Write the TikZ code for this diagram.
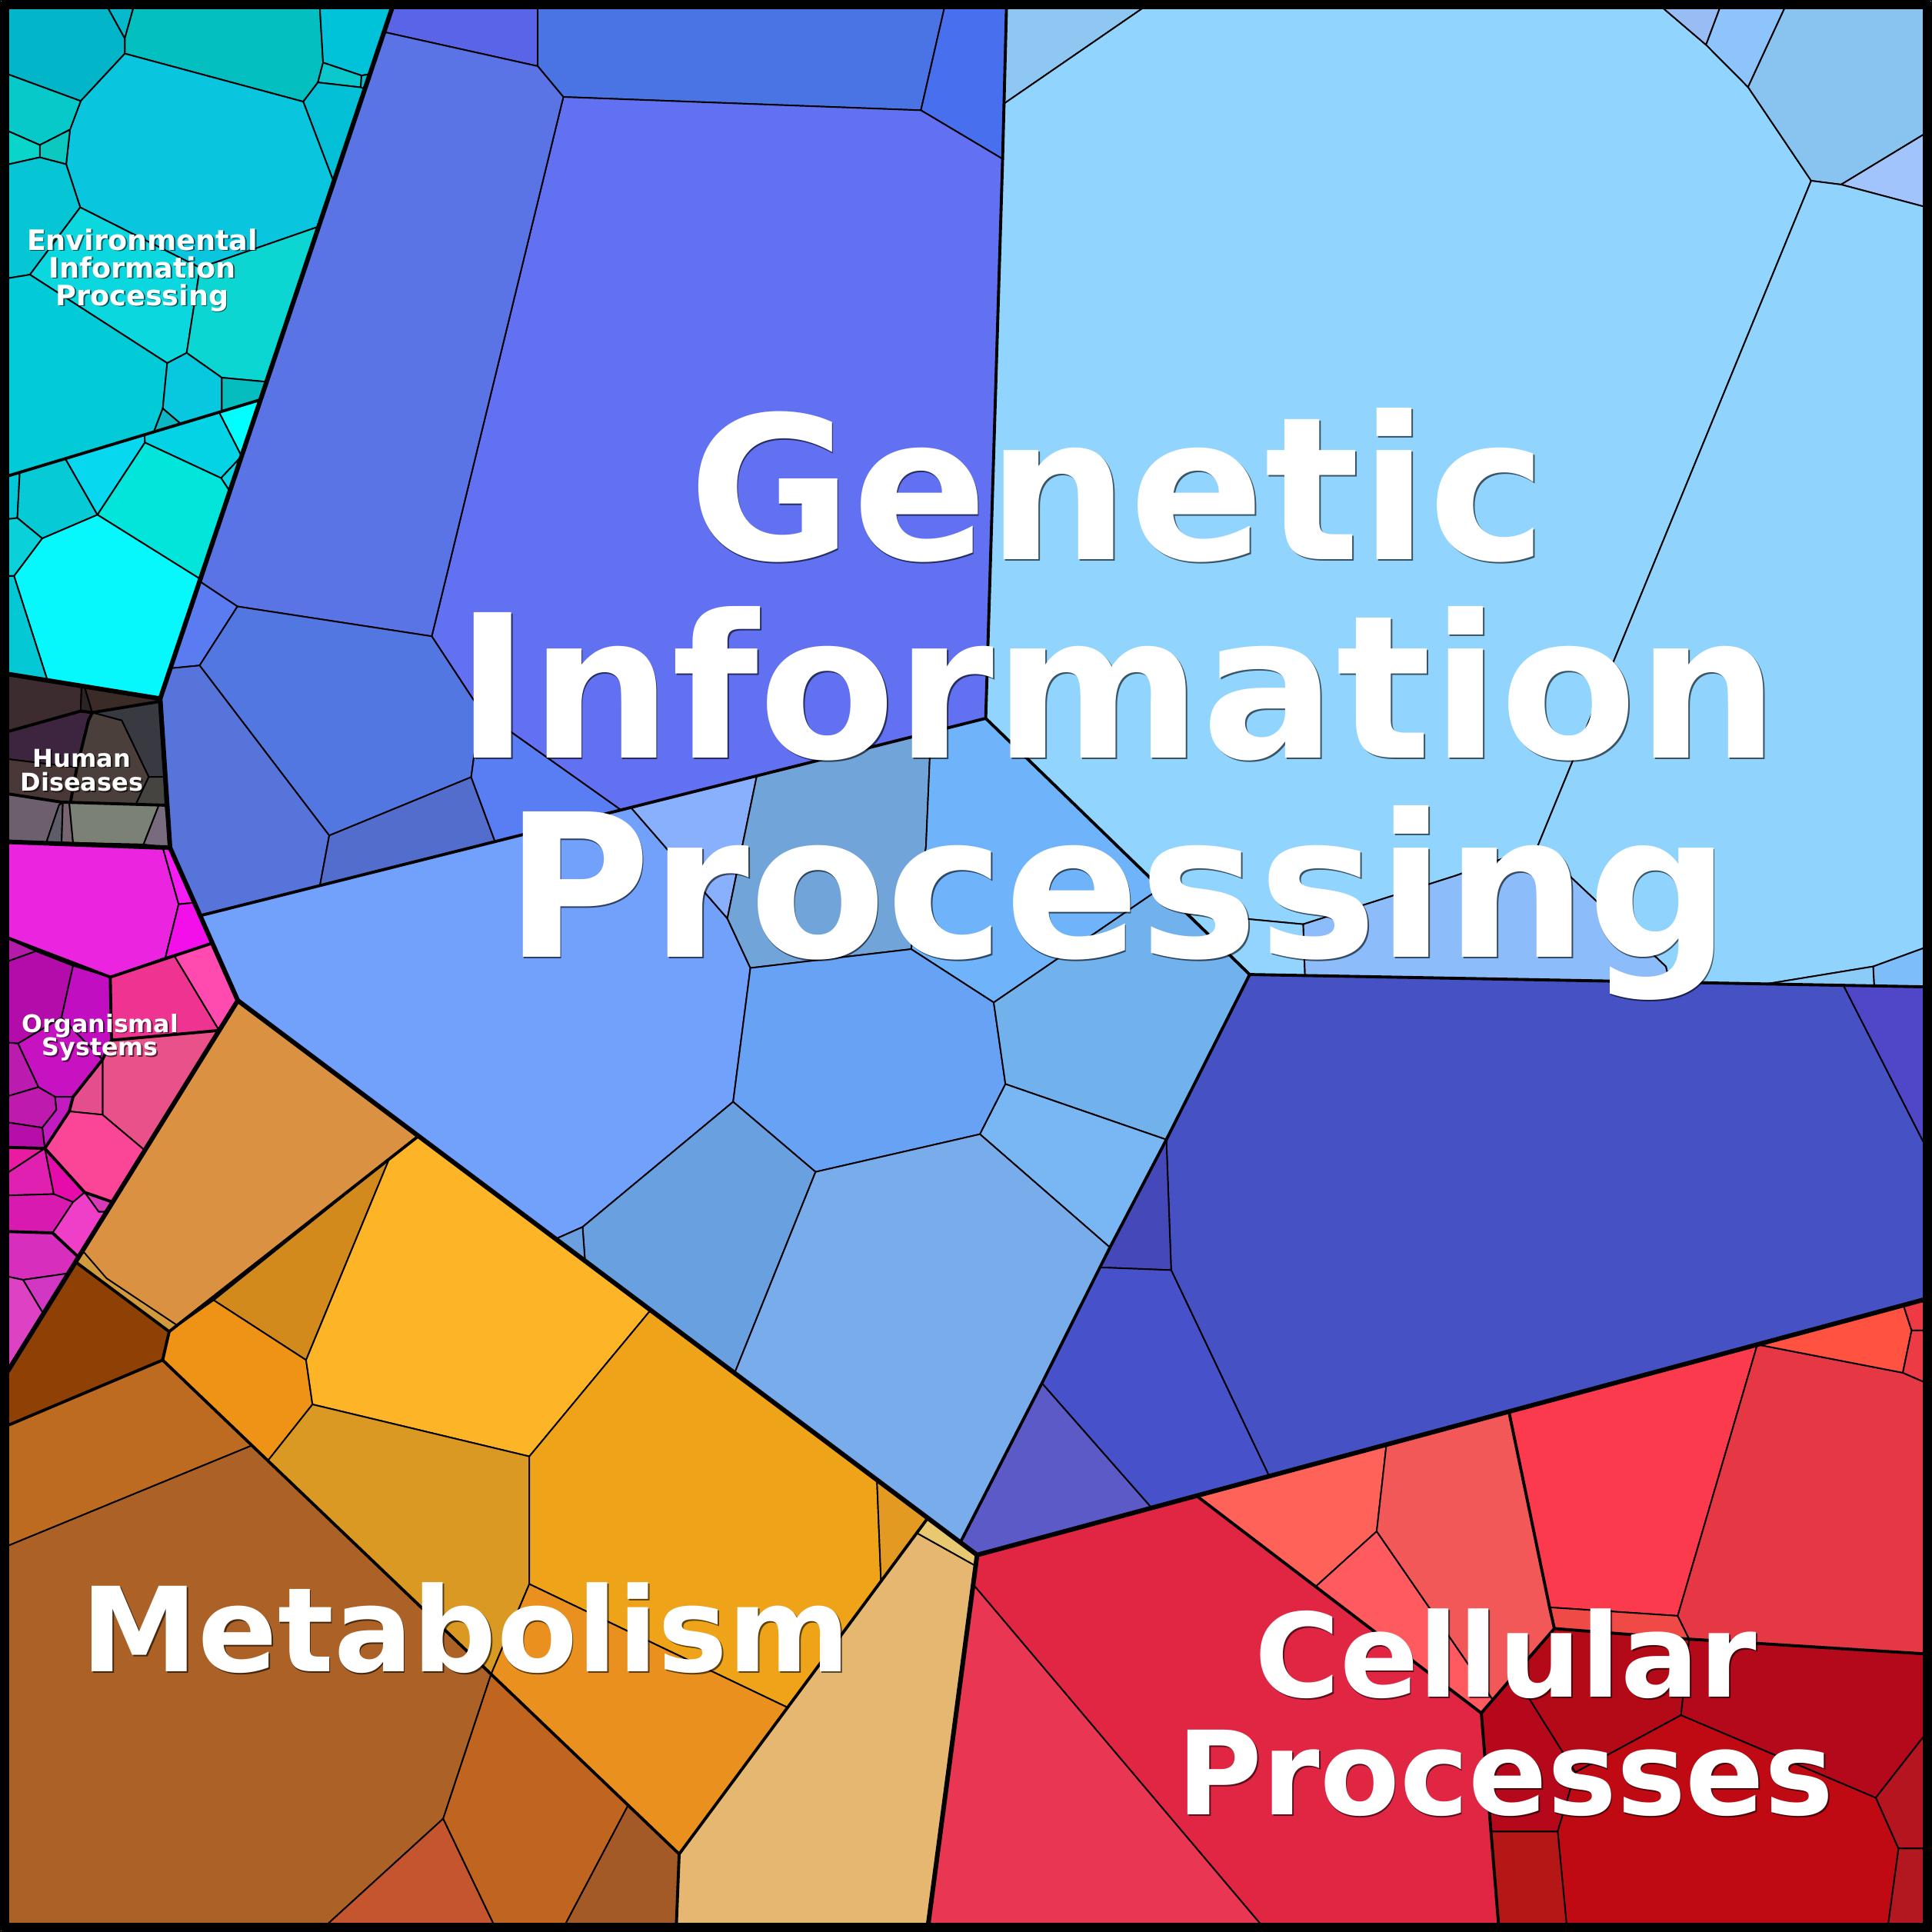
\documentclass[tikz,border=0pt]{standalone}
\usepackage{fontspec}
\setmainfont{DejaVu Sans}
\usepackage{tikz}
% one Voronoi cell: fill colour (HTML) and corner list
\newcommand{\cell}[2]{\definecolor{cellfill}{HTML}{#1}\filldraw[cellline,fill=cellfill] plot coordinates {#2} -- cycle;}
% white label line with a thin dark shadow
\newcommand{\catlabel}[4]{%
\node[labelshadow,font=\bfseries\fontsize{#2}{#2}\selectfont] at #3 {#4};
\node[labeltext,font=\bfseries\fontsize{#2}{#2}\selectfont] (#1) at #3 {#4};}

\begin{document}
\begin{tikzpicture}[x=0.01602cm,y=-0.01602cm,line join=round]
\tikzset{cellline/.style={draw=black,line width=0.55pt},
grpline/.style={line width=1.1pt,line cap=round},
regline/.style={line width=1.7pt,line cap=round},
labeltext/.style={text=white,inner sep=0pt,anchor=base},
labelshadow/.style={text=black,opacity=0.6,inner sep=0pt,anchor=base,xshift=0.5pt,yshift=-0.5pt}}
\useasboundingbox (0,0) rectangle (1568,1568);
\begin{scope}
\clip (0,0) rectangle (1568,1568);
\fill[black] (0,0) rectangle (1568,1568);
% Environmental Information Processing
\cell{03B5C8}{(0,0) (84.1,0) (101.3,31.2) (101.3,43.5) (65.5,82) (0,57.9)}
\cell{06B9CC}{(84.1,0) (110,0) (101.3,31.2)}
\cell{04BFBF}{(110,0) (259.2,0) (262.2,50.8) (258,66.9) (246.1,82.5) (101.3,43.5) (101.3,31.2)}
\cell{00C3DA}{(259.2,0) (320.4,0) (300.2,60.2) (293.4,61.3) (262.2,50.8)}
\cell{0BC8CC}{(262.2,50.8) (293.4,61.3) (292.8,70.9) (258,66.9)}
\cell{08C0D0}{(293.4,61.3) (300.2,60.2) (296.1,72.5) (292.8,70.9)}
\cell{03C0D6}{(258,66.9) (292.8,70.9) (296.1,72.5) (270.8,147.6) (246.1,82.5)}
\cell{09C5DD}{(101.3,43.5) (246.1,82.5) (270.8,147.6) (258.6,183.9) (162.3,217.3) (65.1,168.3) (53.7,133.3) (56.8,105.2) (65.5,82)}
\cell{07C9C9}{(0,57.9) (65.5,82) (56.8,105.2) (32.3,117.7) (0,103.5)}
\cell{0BC9BE}{(56.8,105.2) (53.7,133.3) (32.3,127.7) (32.3,117.7)}
\cell{0AD5CA}{(0,103.5) (32.3,117.7) (32.3,127.7) (0,134.9)}
\cell{06C6D6}{(0,134.9) (32.3,127.7) (53.7,133.3) (65.1,168.3) (24.3,222.9) (0,226.9)}
\cell{0BD7DF}{(65.1,168.3) (162.3,217.3) (151.5,286.4) (135.7,294.7) (24.3,222.9)}
\cell{0CD6D2}{(162.3,217.3) (258.6,183.9) (216.3,309.9) (180,306.5) (151.5,286.4)}
\cell{03CAD7}{(0,226.9) (24.3,222.9) (135.7,294.7) (132.1,331.5) (124.8,350.6) (0,388.2)}
\cell{08C8DF}{(135.7,294.7) (151.5,286.4) (180,306.5) (180,333.9) (146.7,344) (132.1,331.5)}
\cell{0BB7C3}{(132.1,331.5) (146.7,344) (124.8,350.6)}
\cell{05BCBE}{(180,306.5) (216.3,309.9) (211.5,324.4) (180,333.9)}
\cell{03C6D8}{(0,388.2) (16,383.4) (14.1,420.4) (0,422)}
\cell{06CAD6}{(16,383.4) (53,372.2) (79.1,417.8) (34.3,437) (14.1,420.4)}
\cell{07D7EF}{(53,372.2) (117.4,352.8) (117.6,359.2) (79.1,417.8)}
\cell{04D3E6}{(117.4,352.8) (177.9,334.6) (196.1,370.2) (179.4,388) (117.6,359.2)}
\cell{00FFFF}{(177.9,334.6) (211.5,324.4) (196.1,370.2)}
\cell{0AD4E4}{(179.4,388) (196.1,370.2) (186.5,398.7)}
\cell{02E5DA}{(117.6,359.2) (179.4,388) (186.5,398.7) (162.6,470) (79.1,417.8)}
\cell{0AD0D9}{(0,422) (14.1,420.4) (34.3,437) (11.4,467.5) (0,467.5)}
\cell{06F8FD}{(34.3,437) (79.1,417.8) (162.6,470) (130,567) (38.5,552.2) (11.4,467.5)}
\cell{04C9D4}{(0,467.5) (11.4,467.5) (38.5,552.2) (0,546)}
% Human Diseases
\cell{3C2C2F}{(0,546) (66.2,557) (65.5,577.1) (0,595.5)}
\cell{2B2424}{(66.2,557) (68.7,557.5) (74.9,578.3) (65.5,577.1)}
\cell{3A2B27}{(68.7,557.5) (130,567) (129,569.4) (74.9,578.3)}
\cell{393A41}{(74.9,578.3) (129,569.4) (133.2,630.6) (120.7,630.6) (98.8,584.7)}
\cell{3D2540}{(0,595.5) (65.5,577.1) (74.9,578.3) (71.8,584.7) (62.4,622.9) (0,615.3)}
\cell{4A3F3A}{(71.8,584.7) (74.9,578.3) (98.8,584.7) (120.7,630.6) (110.3,652.8) (57.2,651.2) (62.4,622.9)}
\cell{4A3738}{(0,615.3) (62.4,622.9) (57.2,651.2) (49.9,651) (0,643.3)}
\cell{454440}{(120.7,630.6) (133.2,630.6) (134.2,653.5) (110.3,652.8)}
\cell{6E5F6F}{(0,643.3) (49.9,651) (47.9,653.5) (37.5,684) (0,684)}
\cell{5D5C69}{(47.9,653.5) (51,651.2) (50,684) (37.5,684)}
\cell{766471}{(51,651.2) (56.2,651.2) (59.3,684) (50,684)}
\cell{7B8174}{(56.2,651.2) (129,653.3) (116.5,685.3) (59.3,684)}
\cell{776B7D}{(129,653.3) (134.2,653.5) (138,688) (116.5,685.3)}
% Organismal Systems
\cell{EA24DF}{(0,683) (132.1,687.8) (145,733.9) (134.2,777.3) (89.5,793) (0,758.7)}
\cell{F61CF2}{(132.1,687.8) (138,688) (157.8,732.6) (145,733.9)}
\cell{F20FEA}{(145,733.9) (157.8,732.6) (172.3,765.4) (134.2,777.3)}
\cell{B31BA8}{(0,758.7) (29.1,772) (0,782.5)}
\cell{B40CAA}{(0,782.5) (29.1,772) (59.3,783.8) (49.9,825.9) (14.6,846.9) (0,845.6)}
\cell{C00EC0}{(59.3,783.8) (89.5,793) (90.5,844.2) (83.2,860) (49.9,825.9)}
\cell{EE3490}{(89.5,793) (134.2,777.3) (141.5,775.7) (177.9,836.3) (90.5,844.2)}
\cell{FF4AB0}{(141.5,775.7) (172.3,765.4) (193,812) (177.9,836.3)}
\cell{C612C0}{(14.6,846.9) (49.9,825.9) (83.2,860) (59.3,890.2) (44.7,890.2) (31.2,882.3)}
\cell{BB1BAF}{(0,845.6) (14.6,846.9) (31.2,882.3) (0,891.5)}
\cell{E85189}{(90.5,844.2) (177.9,836.3) (117.5,933.6) (83.2,904.7) (83.2,860)}
\cell{E54E8D}{(83.2,860) (83.2,904.7) (56.2,902) (59.3,890.2)}
\cell{BE1BAE}{(0,891.5) (31.2,882.3) (44.7,890.2) (45.8,900.7) (34.3,915.2) (0,910)}
\cell{C21BBF}{(44.7,890.2) (59.3,890.2) (56.2,902) (36.4,932) (34.3,915.2) (45.8,900.7)}
\cell{B80EA9}{(0,910) (34.3,915.2) (36.4,932) (0,931)}
\cell{FB4597}{(36.4,932) (56.2,902) (83.2,904.7) (117.5,933.6) (91.4,975.6) (68.7,967.7)}
\cell{E81BA1}{(0,931) (36.4,932) (0,955.9)}
\cell{E020B0}{(0,955.9) (36.4,932) (43.7,969.1) (0,970.4)}
\cell{E60CAB}{(36.4,932) (68.7,967.7) (59.3,975.6) (43.7,969.1)}
\cell{D81AB0}{(0,970.4) (43.7,969.1) (59.3,975.6) (42.7,1000.6) (0,999.3)}
\cell{D73AB4}{(68.7,967.7) (91.4,975.6) (86.5,983.5) (80.1,983.5)}
\cell{EF3FC9}{(59.3,975.6) (68.7,967.7) (80.1,983.5) (86.5,983.5) (63.7,1020.3) (42.7,1000.6)}
\cell{D82EBE}{(0,999.3) (42.7,1000.6) (63.7,1020.3) (55.6,1033.4) (18.7,1038.7) (0,1034.7)}
\cell{D237C4}{(18.7,1038.7) (55.6,1033.4) (35.2,1066.3)}
\cell{DE42C4}{(0,1034.7) (18.7,1038.7) (35.2,1066.3) (0,1123)}
% Genetic Information Processing
\cell{5A64E6}{(320.4,0) (436.4,0) (436.4,53.7) (311.7,26)}
\cell{4A73E4}{(436.4,0) (767.9,0) (747.4,89.5) (457.2,78.7) (436.4,53.7)}
\cell{4870EE}{(767.9,0) (817,0) (813.7,129) (747.4,89.5)}
\cell{6171F1}{(457.2,78.7) (747.4,89.5) (813.7,129) (800,583) (503.7,657.2) (389.8,576.4) (350.4,516.4)}
\cell{5A74E6}{(311.7,26) (436.4,53.7) (457.2,78.7) (350.4,516.4) (192.7,492.2) (162,471.8)}
\cell{5B7BF1}{(162,471.8) (192.7,492.2) (162,540.1) (138.3,542.4)}
\cell{5377E0}{(192.7,492.2) (350.4,516.4) (389.8,576.4) (382.4,630.7) (267.2,678.1) (162,540.1)}
\cell{5774DA}{(130,567) (138.3,542.4) (162,540.1) (267.2,678.1) (259.7,718.5) (163,743) (138,688)}
\cell{526DCC}{(267.2,678.1) (382.4,630.7) (402,683.7) (259.7,718.5)}
\cell{597EF3}{(389.8,576.4) (503.7,657.2) (402,683.7) (382.4,630.7)}
\cell{8DC7F2}{(817,0) (937,0) (815,84)}
\cell{91D4FD}{(937,0) (1342,0) (1384.6,36.4) (1418.7,70.7) (1469.9,146.7) (1248,686.6) (1181.6,710.6) (1057.6,750.1) (963,741.2) (800,583) (813.7,129) (815,84)}
\cell{98BDF4}{(1342,0) (1398.2,0) (1384.6,36.4)}
\cell{8DC4FC}{(1384.6,36.4) (1398.2,0) (1451.4,0) (1418.7,70.7)}
\cell{88C4EF}{(1418.7,70.7) (1451.4,0) (1568,0) (1568,105) (1494.2,149.8) (1469.9,146.7)}
\cell{A1C4FC}{(1494.2,149.8) (1568,105) (1568,169.4)}
\cell{90D3FD}{(1469.9,146.7) (1494.2,149.8) (1568,169.4) (1568,767) (1520.2,784.4) (1434,798.5) (1355,797.1) (1352,784.4) (1248,686.6)}
\cell{8DBCFB}{(1057.6,750.1) (1181.6,710.6) (1248,686.6) (1352,784.4) (1355,797.1) (1059,791.7)}
\cell{93D4FD}{(963,741.2) (1057.6,750.1) (1059,791.7) (1014.2,790.9)}
\cell{7DBEF8}{(1520.2,784.4) (1568,767) (1568,801) (1521,800.1)}
\cell{8BCBF7}{(1434,798.5) (1520.2,784.4) (1521,800.1)}
\cell{72A1FB}{(163,743) (512,655.3) (590.3,745.4) (609,785.6) (595,894.2) (472.8,995.8) (451,1005.5) (193,812)}
\cell{88B0FC}{(512,655.3) (614.2,629.7) (590.3,745.4)}
\cell{71A5DA}{(614.2,629.7) (755.5,594.2) (751.5,687.1) (739.5,770.3) (609,785.6) (590.3,745.4)}
\cell{6FB3FA}{(755.5,594.2) (800,583) (942,720.8) (806.5,813.6) (739.5,770.3) (751.5,687.1)}
\cell{68A2F5}{(609,785.6) (739.5,770.3) (806.5,813.6) (816,879.8) (795.3,920.5) (661.9,951.1) (595,894.2)}
\cell{71B1EC}{(806.5,813.6) (942,720.8) (1014.2,790.9) (946.6,924.9) (816,879.8)}
\cell{79B7F4}{(816,879.8) (946.6,924.9) (900.8,1012.4) (795.3,920.5)}
\cell{68A0E0}{(472.8,995.8) (595,894.2) (661.9,951.1) (596.2,1114.4) (474.8,1023.4)}
\cell{6C9FE0}{(451,1005.5) (472.8,995.8) (474.8,1023.4)}
\cell{79ACEB}{(661.9,951.1) (795.3,920.5) (900.8,1012.4) (845.6,1122.6) (779.4,1251.8) (596.2,1114.4)}
\cell{4652C3}{(1014.2,790.9) (1496.1,799.7) (1568,940.5) (1568,1053) (1030.1,1198.1) (950.5,1030.8) (946.6,924.9)}
\cell{4F47C8}{(1496.1,799.7) (1568,801) (1568,940.5)}
\cell{4548B9}{(946.6,924.9) (950.5,1030.8) (892.7,1028.6) (900.8,1012.4)}
\cell{4651CA}{(892.7,1028.6) (950.5,1030.8) (1030.1,1198.1) (934.6,1223.8) (845.6,1122.6)}
\cell{5B5AC7}{(845.6,1122.6) (934.6,1223.8) (793,1262) (779.4,1251.8)}
% Metabolism
\cell{DA9142}{(193,812) (339,922.5) (137.3,1080.7) (61.4,1024.2)}
\cell{D29A3C}{(67,1015) (86.4,1037.4) (143.6,1075.5) (137.3,1080.7) (61.4,1024.2)}
\cell{8F4004}{(61.4,1024.2) (137.3,1080.7) (132,1103.8) (0,1159.5) (0,1123)}
\cell{BC6B21}{(0,1159.5) (132,1103.8) (204.5,1173.1) (0,1257.2)}
\cell{AC6226}{(0,1257.2) (204.5,1173.1) (398.6,1358.7) (359.7,1476) (258.8,1568) (0,1568)}
\cell{C5552F}{(359.7,1476) (403.7,1568) (258.8,1568)}
\cell{C0651F}{(398.6,1358.7) (509.8,1465.1) (455.5,1568) (403.7,1568) (359.7,1476)}
\cell{A45A26}{(509.8,1465.1) (551.2,1504.7) (548.7,1568) (455.5,1568)}
\cell{D38A1C}{(173.4,1055.2) (315.7,941) (248.4,1103.8)}
\cell{EE9316}{(137.3,1080.7) (173.4,1055.2) (248.4,1103.8) (253.6,1139.8) (217.4,1185.5) (132,1103.8)}
\cell{FDB427}{(315.7,941) (339,922.5) (528,1063.3) (429.6,1182) (253.6,1139.8) (248.4,1103.8)}
\cell{D99922}{(253.6,1139.8) (429.6,1182) (429.6,1285.6) (398.6,1358.7) (217.4,1185.5)}
\cell{EEA319}{(528,1063.3) (711.7,1201) (715,1283.3) (639.2,1385.8) (429.6,1285.6) (429.6,1182)}
\cell{E39A22}{(711.7,1201) (753,1232) (715,1283.3)}
\cell{EA901F}{(429.6,1285.6) (639.2,1385.8) (551.2,1504.7) (398.6,1358.7)}
\cell{E9C872}{(753,1232) (793,1262) (792,1271) (744,1244.2)}
\cell{E5B771}{(744,1244.2) (792,1271) (752.5,1568) (548.7,1568) (551.2,1504.7)}
% Cellular Processes
\cell{E12644}{(793,1262) (971.1,1214) (1202.2,1390.3) (1216.7,1568) (1028.5,1568) (789.9,1286)}
\cell{E93652}{(789.9,1286) (1028.5,1568) (752.5,1568)}
\cell{FF6259}{(971.1,1214) (1125.2,1172.4) (1117.3,1242.8) (1067.7,1287.7)}
\cell{FE5A5F}{(1067.7,1287.7) (1117.3,1242.8) (1211.5,1379.5) (1202.2,1390.3)}
\cell{F25858}{(1125.2,1172.4) (1224.6,1145.6) (1257.6,1304.5) (1261.5,1321.7) (1211.5,1379.5) (1117.3,1242.8)}
\cell{FC3A4D}{(1224.6,1145.6) (1426.2,1091.2) (1361.6,1311.4) (1257.6,1304.5)}
\cell{F04A47}{(1257.6,1304.5) (1361.6,1311.4) (1370.9,1330.3) (1261.5,1321.7)}
\cell{E63844}{(1426.2,1091.2) (1544.3,1114.1) (1568,1124.4) (1568,1342.6) (1370.9,1330.3) (1361.6,1311.4)}
\cell{FF5240}{(1426.2,1091.2) (1544.8,1059.3) (1551.4,1079.8) (1544.3,1114.1)}
\cell{EE3A45}{(1544.8,1059.3) (1568,1053) (1568,1079.8) (1551.4,1079.8)}
\cell{EC3B45}{(1551.4,1079.8) (1568,1079.8) (1568,1124.4) (1544.3,1114.1)}
\cell{B5081A}{(1202.2,1390.3) (1229,1359.3) (1278.6,1438.4) (1264.2,1486.4) (1210,1486.4)}
\cell{B40A18}{(1229,1359.3) (1261.5,1321.7) (1370.9,1330.3) (1364.3,1392) (1278.6,1438.4)}
\cell{BF0A14}{(1364.3,1392) (1522.4,1459) (1540.8,1500.2) (1531.6,1568) (1272,1568) (1264.2,1486.4) (1278.6,1438.4)}
\cell{B3091B}{(1370.9,1330.3) (1568,1342.6) (1568,1400.6) (1522.4,1459) (1364.3,1392)}
\cell{B5151F}{(1522.4,1459) (1568,1400.6) (1568,1500.2) (1540.8,1500.2)}
\cell{B3171F}{(1540.8,1500.2) (1568,1500.2) (1568,1568) (1531.6,1568)}
\cell{B41716}{(1210,1486.4) (1264.2,1486.4) (1272,1568) (1216.7,1568)}
% group borders
\draw[grpline] (0,388.2) -- (211.5,324.4);
\draw[grpline] (0,595.5) -- (65.5,577.1) -- (74.9,578.3) -- (129,569.4);
\draw[grpline] (74.9,578.3) -- (71.8,584.7) -- (62.4,622.9) -- (57.2,651.2);
\draw[grpline] (0,643.3) -- (49.9,651) -- (134.2,653.5);
\draw[grpline] (0,758.7) -- (89.5,793) -- (172.3,765.4);
\draw[grpline] (89.5,793) -- (90.5,844.2) -- (177.9,836.3);
\draw[grpline] (90.5,844.2) -- (83.2,860) -- (59.3,890.2) -- (56.2,902) -- (36.4,932) -- (0,931);
\draw[grpline] (36.4,932) -- (68.7,967.7) -- (91.4,975.6);
\draw[grpline] (0,999.3) -- (42.7,1000.6) -- (63.7,1020.3);
\draw[grpline] (163,743) -- (800,583);
\draw[grpline] (817,0) -- (813.7,129) -- (800,583) -- (1014.2,790.9) -- (1568,801);
\draw[grpline] (1014.2,790.9) -- (946.6,924.9) -- (900.8,1012.4) -- (845.6,1122.6) -- (779.4,1251.8);
\draw[grpline] (0,1159.5) -- (132,1103.8) -- (137.3,1080.7) -- (61.4,1024.2);
\draw[grpline] (137.3,1080.7) -- (339,922.5);
\draw[grpline] (132,1103.8) -- (551.2,1504.7) -- (548.7,1568);
\draw[grpline] (753,1232) -- (551.2,1504.7);
\draw[grpline] (971.1,1214) -- (1202.2,1390.3) -- (1216.7,1568);
\draw[grpline] (1224.6,1145.6) -- (1257.6,1304.5) -- (1261.5,1321.7) -- (1202.2,1390.3);
\draw[grpline] (1261.5,1321.7) -- (1370.9,1330.3) -- (1568,1342.6);
% category borders
\draw[regline] (320.4,0) -- (130,567) -- (138,688) -- (193,812) -- (0,1123);
\draw[regline] (0,546) -- (130,567);
\draw[regline] (0,683) -- (138,688);
\draw[regline] (193,812) -- (793,1262) -- (752.5,1568);
\draw[regline] (793,1262) -- (1568,1053);
\end{scope}
\draw[line width=3.3pt] (3.63,3.63) rectangle (1564.37,1564.37);
% category names
\catlabel{gip1}{73.8}{(907,454)}{Genetic}
\catlabel{gip2}{73.8}{(907,615.4)}{Information}
\catlabel{gip3}{73.8}{(907,777)}{Processing}
\catlabel{cp1}{43}{(1222,1377.3)}{Cellular}
\catlabel{cp2}{43}{(1222,1472.7)}{Processes}
\catlabel{met}{43.4}{(378,1356.7)}{Metabolism}
\catlabel{eip1}{10.4}{(115.5,202.9)}{Environmental}
\catlabel{eip2}{10.4}{(115.5,225.4)}{Information}
\catlabel{eip3}{10.4}{(115.5,247.9)}{Processing}
\catlabel{hd1}{9.1}{(66.5,622.4)}{Human}
\catlabel{hd2}{9.1}{(66.5,642)}{Diseases}
\catlabel{os1}{9}{(81.2,837.7)}{Organismal}
\catlabel{os2}{9}{(81.2,856.9)}{Systems}
\end{tikzpicture}
\end{document}
